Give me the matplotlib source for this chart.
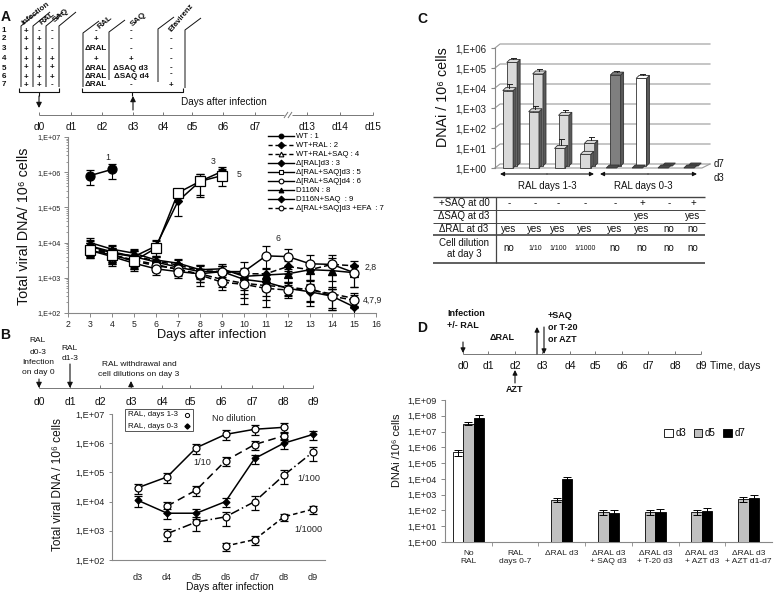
import numpy as np
import matplotlib
matplotlib.use('Agg')
import matplotlib.pyplot as plt
from matplotlib.lines import Line2D
from matplotlib.patches import Polygon, Rectangle
from matplotlib.transforms import IdentityTransform
from matplotlib.ticker import FixedLocator, NullFormatter, LogLocator

plt.rcParams['font.family'] = ['Liberation Sans', 'DejaVu Sans']

# ---------------- Panel A data ----------------
a_days = [3, 4, 5, 6, 7, 8, 9, 10, 11, 12, 13, 14, 15]
a_days_early = [3, 4, 5, 6, 7, 8, 9]
a_wt_days = [3, 4]
a_wt = [8.0e5, 1.2e6]
a_wt_rsd = [0.45, 0.45]
a_ral = [7e3, 5e3, 4.2e3, 3e3, 2.3e3, 1.6e3, 1.5e3, 1.3e3, 1.3e3, 2.1e3, 1.7e3, 2.4e3, 2.2e3]
a_ral_rsd = [0.4, 0.45, 0.4, 0.35, 0.35, 0.4, 0.4, 0.5, 0.5, 0.4, 0.5, 0.5, 0.4]
a_ral_saq = [7e3, 4.5e3, 3.2e3, 2.4e3, 1.7e3, 1.3e3, 9e2, 7e2, 6e2, 5.5e2, 4.5e2, 3.5e2, 2.6e2]
a_ral_saq_rsd = [0.4, 0.4, 0.4, 0.35, 0.35, 0.4, 0.4, 0.5, 0.6, 0.4, 0.5, 0.6, 0.4]
a_dral3 = [8e3, 5.5e3, 4e3, 8e3, 1.5e5, 5.5e5, 1.05e6]
a_dral3_rsd = [0.5, 0.5, 0.5, 0.5, 0.63, 0.64, 0.35]
a_dralsaq3 = [6e3, 4.5e3, 3e3, 7e3, 2.6e5, 5.5e5, 8e5]
a_dralsaq3_rsd = [0.4, 0.45, 0.4, 0.6, 0.3, 0.6, 0.5]
a_dralsaq4 = [6e3, 4e3, 2.6e3, 1.8e3, 1.5e3, 1.3e3, 1.5e3, 1.5e3, 4.2e3, 4e3, 2.5e3, 2.4e3, 1.4e3]
a_dralsaq4_rsd = [0.4, 0.45, 0.4, 0.35, 0.35, 0.4, 0.4, 0.88, 0.9, 0.6, 0.8, 0.8, 0.6]
a_d116n = [1e4, 6.5e3, 5e3, 3.2e3, 2.6e3, 1.7e3, 1.8e3, 1.1e3, 1.2e3, 1.3e3, 1.7e3, 1.6e3, 1.4e3]
a_d116n_rsd = [0.35, 0.3, 0.3, 0.3, 0.3, 0.35, 0.35, 0.5, 0.5, 0.4, 0.5, 0.5, 0.6]
a_d116n_saq = [8e3, 5e3, 4e3, 2.8e3, 2e3, 1.5e3, 1.5e3, 9e2, 7.5e2, 5e2, 4e2, 3e2, 1.5e2]
a_d116n_saq_rsd = [0.4, 0.4, 0.4, 0.35, 0.35, 0.4, 0.4, 0.5, 0.6, 0.4, 0.6, 0.6, 0.4]
a_efa = [7e3, 4.5e3, 3e3, 2.2e3, 1.8e3, 1.2e3, 7.5e2, 6.5e2, 5e2, 4.5e2, 5e2, 3e2, 2.3e2]
a_efa_rsd = [0.4, 0.45, 0.4, 0.35, 0.35, 0.5, 0.4, 0.6, 0.7, 0.4, 0.6, 0.6, 0.4]

# treatment table of panel A
a_rows = ['1', '2', '3', '4', '5', '6', '7']
a_infection = ['+', '+', '+', '+', '+', '+', '+']
a_ral_d0 = ['-', '+', '+', '+', '+', '+', '+']
a_saq_d0 = ['-', '-', '-', '+', '+', '+', '-']
a_ral_d3 = ['-', '+', 'ΔRAL', '+', 'ΔRAL', 'ΔRAL', 'ΔRAL']
a_saq_d3 = ['-', '-', '-', '+', 'ΔSAQ d3', 'ΔSAQ d4', '-']
a_efa_d3 = ['-', '-', '-', '-', '-', '-', '+']
a_timeline = ['d0', 'd1', 'd2', 'd3', 'd4', 'd5', 'd6', 'd7', 'd13', 'd14', 'd15']

# ---------------- Panel B data ----------------
b_days = ['d3', 'd4', 'd5', 'd6', 'd7', 'd8', 'd9']
b_nodil_x = [3, 4, 5, 6, 7, 8]
b_nodil = [3e4, 7e4, 7e5, 2e6, 3e6, 3.5e6]
b_nodil_rsd = [0.38, 0.4, 0.38, 0.38, 0.38, 0.38]
b_dil10_x = [4, 5, 6, 7, 8]
b_dil10 = [7e3, 2.5e4, 2.5e5, 9e5, 1.8e6]
b_dil10_rsd = [0.4, 0.4, 0.35, 0.35, 0.3]
b_ral03_x = [3, 4, 5, 6, 7, 8, 9]
b_ral03 = [1.1e4, 4e3, 4e3, 1e4, 3e5, 1e6, 2e6]
b_ral03_rsd = [0.4, 0.38, 0.35, 0.35, 0.33, 0.38, 0.35]
b_dil100_x = [4, 5, 6, 7, 8, 9]
b_dil100 = [8e2, 2e3, 3e3, 1e4, 8e4, 5e5]
b_dil100_rsd = [0.45, 0.5, 0.5, 0.5, 0.5, 0.5]
b_dil1000_x = [6, 7, 8, 9]
b_dil1000 = [3e2, 5e2, 3e3, 5.5e3]
b_dil1000_rsd = [0.3, 0.35, 0.3, 0.3]
b_timeline = ['d0', 'd1', 'd2', 'd3', 'd4', 'd5', 'd6', 'd7', 'd8', 'd9']

# ---------------- Panel C data ----------------
c_d3 = [7.4e3, 6.5e2, 9.5, 4.8, 1, 1, 1, 1]
c_d3_err = [1.6e4, 1.2e3, 28, None, None, None, None, None]
c_d7 = [1.5e5, 4e4, 3.4e2, 13.5, 3.5e4, 2.4e4, 1, 1]
c_d7_err = [2.4e5, 6.8e4, 6e2, 28, 5.9e4, 4e4, None, None]
c_d7_colors = ['#d9d9d9', '#d9d9d9', '#d9d9d9', '#d9d9d9', '#7f7f7f', '#ffffff', '#7f7f7f', '#7f7f7f']
c_row_saq_d0 = ['-', '-', '-', '-', '-', '+', '-', '+']
c_row_dsaq_d3 = ['', '', '', '', '', 'yes', '', 'yes']
c_row_dral_d3 = ['yes', 'yes', 'yes', 'yes', 'yes', 'yes', 'no', 'no']
c_row_dilution = ['no', '1/10', '1/100', '1/1000', 'no', 'no', 'no', 'no']

# ---------------- Panel D data ----------------
d_groups = ['No\nRAL', 'RAL\ndays 0-7', 'ΔRAL d3', 'ΔRAL d3\n+ SAQ d3', 'ΔRAL d3\n+ T-20 d3',
            'ΔRAL d3\n+ AZT d3', 'ΔRAL d3\n+ AZT d1-d7']
d_d3 = [5e5, np.nan, np.nan, np.nan, np.nan, np.nan, np.nan]
d_d3_err = [2e5, np.nan, np.nan, np.nan, np.nan, np.nan, np.nan]
d_d5 = [3.2e7, np.nan, 4.8e2, 7.5e1, 7.5e1, 7.5e1, 5.2e2]
d_d5_err = [7e6, np.nan, 1.3e2, 2.5e1, 2.5e1, 2.5e1, 1.6e2]
d_d7 = [7.5e7, np.nan, 1e4, 7e1, 8e1, 9.5e1, 6e2]
d_d7_err = [3e7, np.nan, 4e3, 3e1, 4e1, 5e1, 3e2]
d_timeline = ['d0', 'd1', 'd2', 'd3', 'd4', 'd5', 'd6', 'd7', 'd8', 'd9']

# =====================================================================
W, H = 778, 595
fig = plt.figure(figsize=(W / 100, H / 100), dpi=100)


def pax(l, t, r, b):
    return fig.add_axes([l / W, 1 - b / H, (r - l) / W, (b - t) / H])


def elabels(lo, hi):
    return ['1,E+%02d' % e for e in range(lo, hi + 1)]


def style_axes(ax, color='#888888'):
    for s in ['top', 'right']:
        ax.spines[s].set_visible(False)
    for s in ['left', 'bottom']:
        ax.spines[s].set_color(color)
        ax.spines[s].set_linewidth(0.8)
    ax.tick_params(colors=color, labelcolor='#222222', width=0.7)


# ---------------- Panel A chart ----------------
axA = pax(68, 137, 376, 313)
axA.set_yscale('log')
axA.set_xlim(2, 16)
axA.set_ylim(1e2, 1e7)
style_axes(axA)
axA.yaxis.set_major_locator(FixedLocator([10.0 ** e for e in range(2, 8)]))
axA.set_yticklabels(elabels(2, 7), fontsize=5.2)
axA.yaxis.set_minor_locator(LogLocator(base=10, subs=np.arange(2, 10)))
axA.yaxis.set_minor_formatter(NullFormatter())
axA.set_xticks(range(2, 17))
axA.set_xticklabels([str(v) for v in range(2, 17)], fontsize=6.3)
axA.tick_params(axis='both', which='major', length=3, pad=2)
axA.tick_params(axis='y', which='minor', length=1.5, color='#888888')

ebkw = dict(capsize=2.6, elinewidth=0.8, capthick=0.8, ecolor='black', color='black', lw=1.1)


def series(ax, x, y, rsd, ls, marker, mfc, ms, z):
    yerr = np.array(y) * np.array(rsd)
    ax.errorbar(x, y, yerr=yerr, linestyle=ls, marker=marker, mfc=mfc, mec='black',
                ms=ms, mew=0.9, zorder=z, **ebkw)


series(axA, a_days, a_ral, a_ral_rsd, (0, (4, 2)), 'D', 'black', 4, 3)
series(axA, a_days, a_ral_saq, a_ral_saq_rsd, (0, (4, 2)), '^', 'white', 4, 3)
series(axA, a_days, a_d116n, a_d116n_rsd, '-', '^', 'black', 5.5, 3)
series(axA, a_days, a_d116n_saq, a_d116n_saq_rsd, '-', 'D', 'black', 4.5, 3)
series(axA, a_days, a_efa, a_efa_rsd, (0, (4, 2)), 'o', 'white', 6.5, 4)
series(axA, a_days, a_dralsaq4, a_dralsaq4_rsd, '-', 'o', 'white', 6.5, 4)
series(axA, a_days_early, a_dral3, a_dral3_rsd, '-', 'D', 'black', 4.5, 5)
series(axA, a_days_early, a_dralsaq3, a_dralsaq3_rsd, '-', 's', 'white', 6.5, 5)
series(axA, a_wt_days, a_wt, a_wt_rsd, '-', 'o', 'black', 6.5, 5)

for x, y, s, ha in [(3.8, 2.7e6, '1', 'center'), (8.6, 2.0e6, '3', 'center'),
                    (9.78, 8.5e5, '5', 'center'), (11.55, 1.35e4, '6', 'center'),
                    (15.5, 2.0e3, '2,8', 'left'), (15.4, 2.3e2, '4,7,9', 'left')]:
    axA.text(x, y, s, fontsize=6.3, ha=ha, va='center', color='#222222')

legA = [
    ('WT : 1', '-', 'o', 'black'),
    ('WT+RAL : 2', (0, (3, 2)), 'D', 'black'),
    ('WT+RAL+SAQ : 4', (0, (3, 2)), '^', 'white'),
    ('Δ[RAL]d3 : 3', '-', 'D', 'black'),
    ('Δ[RAL+SAQ]d3 : 5', '-', 's', 'white'),
    ('Δ[RAL+SAQ]d4 : 6', '-', 'o', 'white'),
    ('D116N : 8', '-', '^', 'black'),
    ('D116N+SAQ  : 9', '-', 'D', 'black'),
    ('Δ[RAL+SAQ]d3 +EFA  : 7', (0, (3, 2)), 'o', 'white'),
]
handles = [Line2D([], [], color='black', lw=1.0, linestyle=ls, marker=m, mfc=fc, mec='black',
                  ms=3.4, mew=0.8) for _, ls, m, fc in legA]
fig.legend(handles, [l[0] for l in legA], loc='upper left', bbox_to_anchor=(268 / W, 1 - 133 / H),
           frameon=False, fontsize=5.6, handlelength=3.3, labelspacing=0.2, handletextpad=0.35,
           borderpad=0, borderaxespad=0)

# ---------------- Panel B chart ----------------
axB = pax(112, 414, 325, 560)
axB.set_yscale('log')
axB.set_ylim(1e2, 1e7)
axB.set_xlim(2.11, 9.41)
style_axes(axB)
axB.yaxis.set_major_locator(FixedLocator([10.0 ** e for e in range(2, 8)]))
axB.set_yticklabels(elabels(2, 7), fontsize=6.6)
axB.yaxis.set_minor_locator(FixedLocator([]))
axB.set_xticks(range(3, 10))
axB.set_xticklabels(b_days, fontsize=6.6)
axB.tick_params(axis='both', which='major', length=2.5, pad=3)
axB.tick_params(axis='x', length=0, pad=9)

series(axB, b_dil1000_x, b_dil1000, b_dil1000_rsd, (0, (3, 2)), 'o', 'white', 5, 3)
series(axB, b_dil100_x, b_dil100, b_dil100_rsd, (0, (6, 2, 1, 2)), 'o', 'white', 5, 3)
series(axB, b_dil10_x, b_dil10, b_dil10_rsd, (0, (5, 3)), 'o', 'white', 5, 3)
series(axB, b_ral03_x, b_ral03, b_ral03_rsd, '-', 'D', 'black', 3.5, 4)
series(axB, b_nodil_x, b_nodil, b_nodil_rsd, '-', 'o', 'white', 5, 4)

for x, y, s in [(6.3, 7e6, 'No dilution'), (5.2, 2.2e5, '1/10'), (8.85, 6e4, '1/100'),
                (8.85, 1.15e3, '1/1000')]:
    axB.text(x, y, s, fontsize=6.6, ha='center', va='center', color='#222222')

# ---------------- Panel C chart (pseudo 3D) ----------------
axC = pax(495, 48, 702, 168)
axC.set_yscale('log')
axC.set_ylim(1, 1e6)
axC.set_xlim(-0.5, 7.5)
for s in ['top', 'right', 'bottom']:
    axC.spines[s].set_visible(False)
axC.spines['left'].set_color('#888888')
axC.yaxis.set_major_locator(FixedLocator([10.0 ** e for e in range(0, 7)]))
axC.set_yticklabels(elabels(0, 6), fontsize=7)
axC.yaxis.set_minor_locator(FixedLocator([]))
axC.tick_params(axis='y', length=3, colors='#888888', labelcolor='#222222', pad=3)
axC.set_xticks([])
axC.patch.set_alpha(0)

ID = IdentityTransform()
wx, wy = 5, 4  # back-wall offset in pixels


def cpoly(pts, fc, ec='#333333', lw=0.6, z=3):
    axC.add_patch(Polygon(pts, closed=True, transform=ID, facecolor=fc, edgecolor=ec,
                          lw=lw, clip_on=False, zorder=z))


# back wall grid lines and floor
for e in range(0, 7):
    X0, Y0 = axC.transData.transform((-0.5, 10.0 ** e))
    X1, _ = axC.transData.transform((7.5, 10.0 ** e))
    axC.add_line(Line2D([X0, X0 + wx, X1 + wx + 3], [Y0, Y0 + wy, Y0 + wy], transform=ID,
                        color='#9a9a9a', lw=0.8, clip_on=False, zorder=1))
Xf0, Yf0 = axC.transData.transform((-0.5, 1))
Xf1, _ = axC.transData.transform((7.5, 1))
axC.add_line(Line2D([Xf0, Xf1, Xf1 + wx + 3], [Yf0, Yf0, Yf0 + wy], transform=ID,
                    color='#9a9a9a', lw=0.8, clip_on=False, zorder=1))


def bar3d(x, val, color, err, back):
    w = 0.4
    sx, sy = (4, 2) if back else (0, 0)
    dx, dy = 3, 3
    X0, Y0 = axC.transData.transform((x - w / 2, 1))
    X1, Y1 = axC.transData.transform((x + w / 2, val))
    X0 += sx; X1 += sx; Y0 += sy; Y1 += sy
    z = 2 if back else 4
    if Y1 - Y0 > 0.5:
        cpoly([(X0, Y0), (X1, Y0), (X1, Y1), (X0, Y1)], color, z=z)
        cpoly([(X1, Y0), (X1 + dx, Y0 + dy), (X1 + dx, Y1 + dy), (X1, Y1)], '#5a5a5a', z=z)
        cpoly([(X0, Y1), (X1, Y1), (X1 + dx, Y1 + dy), (X0 + dx, Y1 + dy)], color, z=z)
    else:
        cpoly([(X0, Y1), (X1, Y1), (X1 + dx, Y1 + dy), (X0 + dx, Y1 + dy)], '#4a4a4a', z=z)
    if err is not None:
        Xc = (X0 + X1) / 2 + 1.5
        _, Ye = axC.transData.transform((x, err))
        Ye += sy
        axC.add_line(Line2D([Xc, Xc], [Y1 + dy, Ye], transform=ID, color='#222222', lw=0.7,
                            clip_on=False, zorder=z))
        axC.add_line(Line2D([Xc - 2.5, Xc + 2.5], [Ye, Ye], transform=ID, color='#222222', lw=0.7,
                            clip_on=False, zorder=z))


for i in range(8):
    bar3d(i, c_d7[i], c_d7_colors[i], c_d7_err[i], True)
for i in range(8):
    bar3d(i, c_d3[i], '#d9d9d9' if c_d3[i] > 1 else '#4a4a4a', c_d3_err[i], False)

# ---------------- Panel D chart ----------------
axD = pax(445, 400, 772, 542)
axD.set_yscale('log')
axD.set_ylim(1, 1e9)
axD.set_xlim(-0.5, 6.5)
style_axes(axD)
axD.yaxis.set_major_locator(FixedLocator([10.0 ** e for e in range(0, 10)]))
axD.set_yticklabels(elabels(0, 9), fontsize=6.6)
axD.yaxis.set_minor_locator(FixedLocator([]))
axD.set_xticks(range(7))
axD.set_xticklabels(d_groups, fontsize=6)
axD.xaxis.set_minor_locator(FixedLocator([i + 0.5 for i in range(6)]))
axD.tick_params(axis='x', which='major', length=0, pad=6)
axD.tick_params(axis='x', which='minor', length=3, color='#888888')
axD.tick_params(axis='y', length=3, pad=3)

bw = 0.225
for i in range(7):
    vals = [(d_d3[i], d_d3_err[i], 'white'), (d_d5[i], d_d5_err[i], '#c0c0c0'),
            (d_d7[i], d_d7_err[i], 'black')]
    present = [v for v in vals if not np.isnan(v[0])]
    if len(present) == 3:
        offs = [-bw, 0, bw]
    elif len(present) == 2:
        offs = [-bw / 2, bw / 2]
    else:
        offs = [0] * len(present)
    for (v, e, c), o in zip(present, offs):
        axD.bar(i + o, v - 1, bottom=1, width=bw, color=c, edgecolor='black', lw=0.6, zorder=3)
        axD.errorbar(i + o, v, yerr=e, fmt='none', ecolor='black', elinewidth=0.7,
                     capsize=2.6, capthick=0.7, zorder=4)

legD = [Rectangle((0, 0), 1, 1, fc=c, ec='black', lw=0.6) for c in ['white', '#c0c0c0', 'black']]
fig.legend(legD, ['d3', 'd5', 'd7'], loc='center left', bbox_to_anchor=(664 / W, 1 - 433 / H),
           ncol=3, frameon=False, fontsize=7, handlelength=0.9, handleheight=0.9,
           handletextpad=0.25, columnspacing=0.8, borderpad=0, borderaxespad=0)

# ---------------- Overlay (annotations in pixel coordinates) ----------------
ov2 = fig.add_axes([0, 0, 1, 1], zorder=20)
ov2.set_xlim(0, W)
ov2.set_ylim(H, 0)
ov2.axis('off')


def T(x, y, s, size=6, ha='center', va='center', **kw):
    ov2.text(x, y, s, fontsize=size, ha=ha, va=va, color=kw.pop('color', '#111111'), **kw)


def Lp(xs, ys, lw=0.8, color='#111111', **kw):
    ov2.plot(xs, ys, color=color, lw=lw, solid_capstyle='butt', **kw)


def ARR(x0, y0, x1, y1, lw=0.8, ms=7, style='-|>'):
    ov2.annotate('', xy=(x1, y1), xytext=(x0, y0),
                 arrowprops=dict(arrowstyle=style, lw=lw, color='#111111', mutation_scale=ms,
                                 shrinkA=0, shrinkB=0))


# panel letters
T(6, 17, 'A', size=10, weight='bold')
T(5, 335, 'B', size=10, weight='bold')
T(422, 19, 'C', size=10, weight='bold')
T(422, 328, 'D', size=10, weight='bold')

# ---- Panel A treatment table ----
rows_y = [31, 39, 49, 59, 68, 77, 85]
for i, y in enumerate(rows_y):
    T(4, y, a_rows[i], size=5.8, weight='bold')
    T(26, y, a_infection[i], size=5.8, weight='bold')
    T(39, y, a_ral_d0[i], size=5.8, weight='bold')
    T(52, y, a_saq_d0[i], size=5.8, weight='bold')
    T(96, y, a_ral_d3[i], size=5.8, weight='bold')
    T(131, y, a_saq_d3[i], size=5.8, weight='bold')
    T(171, y - (3 if i == 5 else 0), a_efa_d3[i], size=5.8, weight='bold')
for x in [21, 33, 46, 59]:
    Lp([x, x, x + 17], [87, 26, 12], lw=0.7)
for x, top, bot in [(83, 33, 87), (109, 32, 80), (158, 29, 82), (185, 30, 88)]:
    Lp([x, x, x + 16], [bot, top, top - 12], lw=0.7)
T(36, 14, 'infection', size=5.8, weight='bold', rotation=38)
T(47, 19, 'RAL', size=6, weight='bold', rotation=38)
T(61, 16, 'SAQ', size=6, weight='bold', rotation=38)
T(105, 22, 'RAL', size=6, weight='bold', rotation=40)
T(138, 19, 'SAQ', size=6, weight='bold', rotation=40)
T(181, 18, 'Efavirenz', size=5.6, weight='bold', rotation=50)
# braces
for x0, x1 in [(19, 59), (82, 183)]:
    Lp([x0, x0, x1, x1], [88, 92, 92, 88], lw=0.8)
    xc = (x0 + x1) / 2
    Lp([xc, xc], [92, 96], lw=0.8)
ARR(39, 96, 39, 108, ms=8)
ARR(133, 110, 133, 96, ms=8)
T(224, 102, 'Days after infection', size=7.2)
# timeline A
a_tick_x = [39, 71, 102, 133, 163, 192, 223, 255, 307, 340, 373]
Lp([39, 284], [115, 115], lw=0.7, color='#777777')
Lp([292, 373], [115, 115], lw=0.7, color='#777777')
Lp([284, 288], [118, 112], lw=0.7, color='#777777')
Lp([288, 292], [118, 112], lw=0.7, color='#777777')
for x, s in zip(a_tick_x, a_timeline):
    Lp([x, x], [112, 115], lw=0.7, color='#777777')
    T(x, 127, s, size=7.3)

# Panel A axis labels
T(24, 226, 'Total viral DNA/ 10⁶ cells', size=10.3, rotation=90)
T(212, 335, 'Days after infection', size=9.2)

# ---- Panel B timeline ----
b_tick_x = [39, 70, 100, 131, 162, 190, 221, 252, 283, 313]
Lp([39, 313], [388, 388], lw=0.7, color='#777777')
for x, s in zip(b_tick_x, b_timeline):
    Lp([x, x], [385, 388], lw=0.7, color='#777777')
    T(x, 402, s, size=7.5)
T(38, 341, 'RAL', size=6)
T(38, 352, 'd0-3', size=6)
T(38, 362, 'Infection', size=6)
T(38, 373, 'on day 0', size=6)
T(70, 349, 'RAL', size=6)
T(70, 359, 'd1-3', size=6)
ARR(39, 379, 39, 388, ms=8)
ARR(70, 364, 70, 388, ms=8)
T(139, 365, 'RAL withdrawal and', size=6)
T(139, 375, 'cell dilutions on day 3', size=6)
ARR(131, 387, 131, 381, ms=8)
T(58, 485, 'Total viral DNA / 10⁶ cells', size=8.6, rotation=90)
T(230, 587, 'Days after infection', size=7.4)
# Panel B legend box
ov2.add_patch(Rectangle((125, 409), 68, 22, fc='white', ec='#555555', lw=0.7))
T(128, 415, 'RAL, days 1-3', size=5.7, ha='left')
T(128, 426, 'RAL, days 0-3', size=5.7, ha='left')
ov2.plot([187], [415], marker='o', ms=3, mfc='white', mec='black', mew=0.7)
ov2.plot([187], [426], marker='D', ms=2.6, mfc='black', mec='black')

# ---- Panel C annotations ----
T(443, 97, 'DNAi / 10⁶ cells', size=10.3, rotation=90)
ARR(547, 174, 500, 174, ms=6)
ARR(547, 174, 594, 174, ms=6)
ARR(648, 174, 600, 174, ms=6)
ARR(648, 174, 697, 174, ms=6)
T(547, 186, 'RAL days 1-3', size=7)
T(643, 186, 'RAL days 0-3', size=7)
T(714, 164, 'd7', size=7, ha='left')
T(714, 178, 'd3', size=7, ha='left')
# table
Lp([433, 705], [197, 197], lw=1.0, color='#444444')
Lp([433, 705], [209.5, 209.5], lw=0.7, color='#444444')
Lp([433, 705], [222.5, 222.5], lw=0.7, color='#444444')
Lp([433, 705], [235, 235], lw=1.2, color='#444444')
Lp([433, 705], [263, 263], lw=1.2, color='#444444')
Lp([496, 496], [197, 263], lw=0.9, color='#444444')
T(464, 203, '+SAQ at d0', size=7)
T(464, 216, 'ΔSAQ at d3', size=7)
T(464, 229, 'ΔRAL at d3', size=7)
T(464, 243, 'Cell dilution', size=7)
T(464, 254, 'at day 3', size=7)
c_col_x = [509, 535, 558, 585, 615, 642, 669, 693]
for i, x in enumerate(c_col_x):
    T(x, 203, c_row_saq_d0[i], size=7)
    T(x, 216, c_row_dsaq_d3[i], size=7)
    T(x, 229, c_row_dral_d3[i], size=7)
    small = c_row_dilution[i].startswith('1/')
    T(x, 248, c_row_dilution[i], size=5 if small else 7)

# ---- Panel D timeline ----
d_tick_x = [463, 488, 515, 542, 570, 595, 622, 648, 675, 701]
Lp([463, 701], [354, 354], lw=0.7, color='#777777')
for x, s in zip(d_tick_x, d_timeline):
    Lp([x, x], [351, 354], lw=0.7, color='#777777')
    T(x, 366, s, size=7.5)
T(710, 366, 'Time, days', size=7.5, ha='left')
T(447, 314, 'Infection', size=6.5, ha='left', weight='bold')
T(447, 325, '+/- RAL', size=6.5, ha='left', weight='bold')
ARR(463, 342, 463, 353, ms=7)
T(502, 338, 'ΔRAL', size=6.5, weight='bold')
ARR(537, 354, 537, 327, ms=7)
ARR(544, 327, 544, 354, ms=7)
T(548, 315, '+SAQ', size=6.5, ha='left', weight='bold')
T(548, 327, 'or T-20', size=6.5, ha='left', weight='bold')
T(548, 339, 'or AZT', size=6.5, ha='left', weight='bold')
ARR(515, 383, 515, 370, ms=7)
T(515, 390, 'AZT', size=6.5, weight='bold')
T(397, 450, 'DNAi /10⁶ cells', size=7.9, rotation=90)

fig.savefig('out.png', dpi=100)
